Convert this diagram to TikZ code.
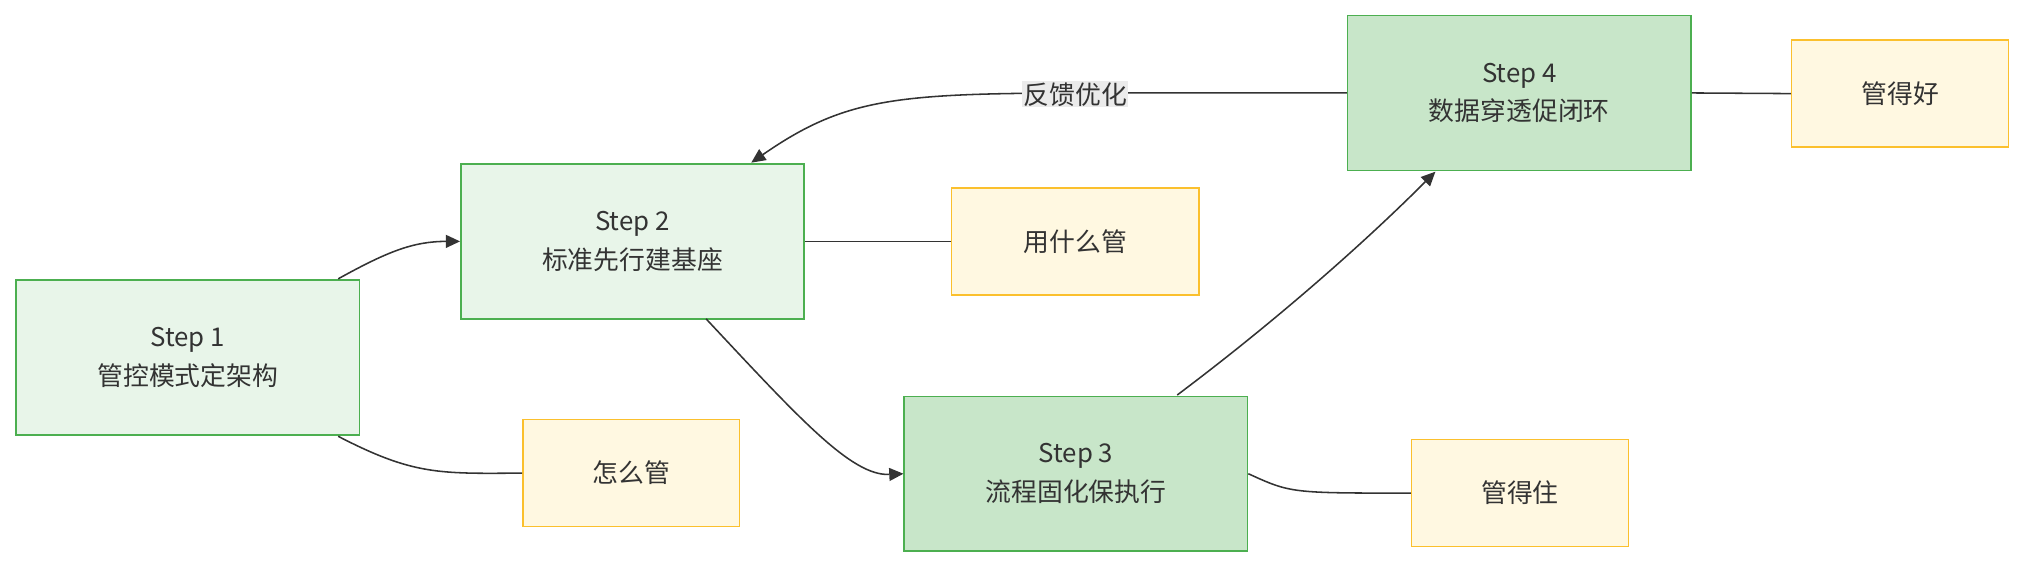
\documentclass[tikz,border=0pt]{standalone}
\usepackage{fontspec}
\setmainfont{Noto Sans CJK SC}
\usetikzlibrary{arrows.meta}
\definecolor{gl}{HTML}{E8F5E9}
\definecolor{gd}{HTML}{C8E6C9}
\definecolor{gb}{HTML}{4CAF50}
\definecolor{yl}{HTML}{FFF8E1}
\definecolor{yb}{HTML}{FBC02D}
\definecolor{ln}{HTML}{333333}
\begin{document}
\begin{tikzpicture}[x=1pt,y=-1pt,
 stepbox/.style={draw=gb,line width=1.2pt,minimum width=266pt,minimum height=120pt,align=center,font=\fontsize{20}{30}\selectfont,text=ln},
 outbox/.style={draw=yb,fill=yl,line width=1.2pt,minimum width=168pt,minimum height=83pt,font=\fontsize{20}{24}\selectfont,text=ln},
 con/.style={draw=ln,line width=1.2pt},
 arr/.style={con,-{Triangle[length=11pt,width=10pt]}}]
\useasboundingbox (0,0) rectangle (1568,440);
\node[stepbox,fill=gl] (s1) at (145.5,277) {Step 1\\管控模式定架构};
\node[stepbox,fill=gl] (s2) at (490,187) {Step 2\\标准先行建基座};
\node[stepbox,fill=gd] (s3) at (833.5,367) {Step 3\\流程固化保执行};
\node[stepbox,fill=gd] (s4) at (1177,72) {Step 4\\数据穿透促闭环};
\node[outbox] (o1) at (489,366.5) {怎么管};
\node[outbox,minimum width=192pt] (o2) at (833,187) {用什么管};
\node[outbox] (o3) at (1177.5,382) {管得住};
\node[outbox] (o4) at (1472,72.5) {管得好};
\coordinate (a1) at (262,216);
\draw[arr] (a1) .. controls (300,195) and (320,187) .. (s2.west);
\coordinate (b1) at (262,338);
\draw[con] (b1) .. controls (320,368) and (340,367) .. (o1.west);
\coordinate (c1) at (547,247);
\draw[arr] (c1) .. controls (620,325) and (660,369) .. (s3.west);
\draw[con] (s2.east) -- (o2.west);
\coordinate (d1) at (912,306);
\coordinate (d2) at (1112,133);
\draw[arr] (d1) .. controls (980,255) and (1050,195) .. (d2);
\draw[con] (s3.east) .. controls (1000,382) .. (o3.west);
\draw[con] (s4.east) -- (o4.west);
\coordinate (e2) at (582,126);
\draw[arr] (s4.west) -- (880,72) .. controls (700,72) and (660,72) .. (e2);
\node[fill=black!8,inner sep=1pt,font=\fontsize{20}{24}\selectfont,text=ln] (lb) at (833,73) {反馈优化};
\end{tikzpicture}
\end{document}
